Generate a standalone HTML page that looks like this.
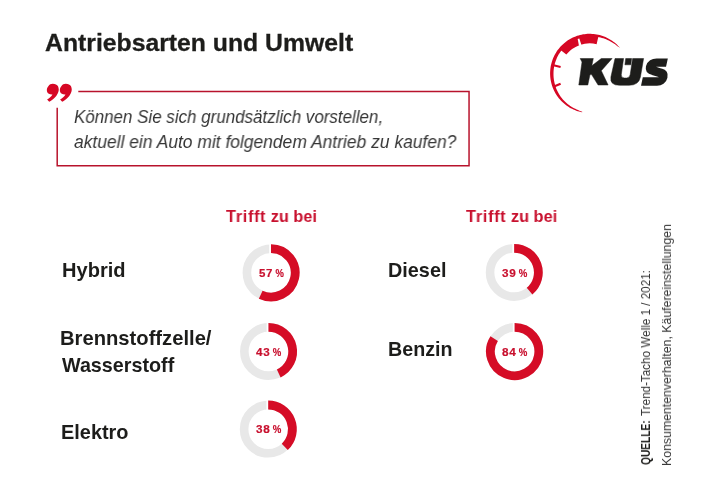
<!DOCTYPE html>
<html lang="de">
<head>
<meta charset="utf-8">
<title>Antriebsarten und Umwelt</title>
<style>
  html, body { margin:0; padding:0; }
  body { width:710px; height:502px; background:#ffffff; position:relative; overflow:hidden;
         font-family:"Liberation Sans", sans-serif; color:#1d1d1b; }
  .abs { position:absolute; white-space:nowrap; line-height:1; transform-origin:0 0; will-change:transform; }
  .title { font-weight:bold; color:#1d1d1b; -webkit-text-stroke:0.3px #1d1d1b; }
  .q { font-style:italic; color:#363636; }
  .lbl { font-weight:bold; color:#1d1d1b; }
  .hdr { font-weight:bold; color:#c8102e; }
  .hdr span { letter-spacing:0.7px; }
  .pct { font-weight:bold; color:#c8102e; -webkit-text-stroke:0.2px #c8102e; }
  .pct .d { letter-spacing:0.7px; }
  .pct .pc { display:inline-block; transform:scaleX(0.82); transform-origin:0 50%; margin-left:-0.5px; }
  .src { color:#363636; }
  .srcb { font-weight:bold; color:#1d1d1b; }
  svg { position:absolute; left:0; top:0; }
</style>
</head>
<body>

<svg id="art" width="710" height="502" viewBox="0 0 710 502">
  <!-- quote box -->
  <g fill="none" stroke="#b8132c" stroke-width="1.5">
    <path d="M78.3 91.5 H469.05 V165.7 H57.2 V107.7"/>
  </g>
<!--DONUTS-->
<circle cx="271.0" cy="272.8" r="24.1" fill="none" stroke="#e8e8e8" stroke-width="8.6"/>
<rect x="269.20" y="243.40" width="1.9" height="10.6" fill="#fff"/>
<path d="M271.00 248.60 A24.2 24.2 0 1 1 260.70 294.70" fill="none" stroke="#d50c26" stroke-width="8.8"/>
<circle cx="268.45" cy="351.5" r="24.1" fill="none" stroke="#e8e8e8" stroke-width="8.6"/>
<rect x="266.65" y="322.10" width="1.9" height="10.6" fill="#fff"/>
<path d="M268.45 327.30 A24.2 24.2 0 0 1 278.75 373.40" fill="none" stroke="#d50c26" stroke-width="8.8"/>
<circle cx="268.2" cy="429.2" r="24.1" fill="none" stroke="#e8e8e8" stroke-width="8.6"/>
<rect x="266.40" y="399.80" width="1.9" height="10.6" fill="#fff"/>
<path d="M268.20 405.00 A24.2 24.2 0 0 1 284.77 446.84" fill="none" stroke="#d50c26" stroke-width="8.8"/>
<circle cx="514.15" cy="272.5" r="24.1" fill="none" stroke="#e8e8e8" stroke-width="8.6"/>
<rect x="512.35" y="243.10" width="1.9" height="10.6" fill="#fff"/>
<path d="M514.15 248.30 A24.2 24.2 0 0 1 529.58 291.15" fill="none" stroke="#d50c26" stroke-width="8.8"/>
<circle cx="514.6" cy="351.5" r="24.1" fill="none" stroke="#e8e8e8" stroke-width="8.6"/>
<rect x="512.80" y="322.10" width="1.9" height="10.6" fill="#fff"/>
<path d="M514.60 327.30 A24.2 24.2 0 1 1 494.17 338.53" fill="none" stroke="#d50c26" stroke-width="8.8"/>
<!--/DONUTS-->

  <!-- quote marks -->
  <g fill="#d60724">
    <path d="M52.8 83.7 C50.9 83.7 49.4 84.6 48.5 85.9 C47.4 87.2 46.85 88.5 46.85 89.9 C46.85 91.5 47.4 92.7 48.4 93.5 C49.5 94.3 51 94.6 52.5 94.5 C51.3 96.4 49.4 98.2 47.1 99.4 L49.2 101.8 C51.2 100.9 53 99.6 54.4 98.1 C55.8 96.7 56.9 95.2 57.7 93.5 C58.4 92.2 58.76 91 58.76 89.8 C58.76 88.4 58.5 87.2 58 86.2 C57.2 84.7 55.2 83.7 52.8 83.7 Z"/>
    <path transform="translate(13 0)" d="M52.8 83.7 C50.9 83.7 49.4 84.6 48.5 85.9 C47.4 87.2 46.85 88.5 46.85 89.9 C46.85 91.5 47.4 92.7 48.4 93.5 C49.5 94.3 51 94.6 52.5 94.5 C51.3 96.4 49.4 98.2 47.1 99.4 L49.2 101.8 C51.2 100.9 53 99.6 54.4 98.1 C55.8 96.7 56.9 95.2 57.7 93.5 C58.4 92.2 58.76 91 58.76 89.8 C58.76 88.4 58.5 87.2 58 86.2 C57.2 84.7 55.2 83.7 52.8 83.7 Z"/>
  </g>

  <!-- logo -->
  <g id="logo">
    <path fill="#d60724" d="M582.14 112.27 L580.65 111.95 L579.17 111.57 L577.70 111.14 L576.25 110.65 L574.83 110.10 L573.42 109.50 L572.04 108.84 L570.68 108.14 L569.36 107.38 L568.06 106.57 L566.80 105.71 L565.57 104.80 L564.37 103.84 L563.22 102.84 L562.10 101.80 L561.03 100.71 L559.99 99.58 L559.00 98.42 L558.06 97.22 L557.17 95.98 L556.32 94.70 L555.52 93.40 L554.77 92.07 L554.08 90.70 L553.44 89.32 L552.85 87.90 L552.32 86.47 L551.84 85.02 L551.42 83.55 L551.06 82.06 L550.75 80.57 L550.51 79.06 L550.32 77.54 L550.19 76.02 L550.11 74.49 L550.10 72.96 L550.15 71.43 L550.25 69.91 L550.42 68.39 L550.64 66.87 L550.92 65.37 L551.26 63.88 L551.66 62.40 L552.11 60.94 L552.62 59.50 L553.18 58.08 L553.80 56.68 L554.47 55.31 L555.20 53.96 L555.97 52.65 L556.80 51.36 L557.68 50.11 L558.60 48.89 L559.57 47.71 L560.58 46.56 L561.64 45.46 L562.74 44.40 L563.88 43.38 L565.06 42.40 L566.27 41.47 L567.52 40.59 L568.80 39.76 L570.12 38.98 L571.46 38.25 L572.83 37.57 L574.23 36.95 L575.65 36.38 L577.09 35.86 L578.54 35.40 L580.02 35.00 L581.51 34.66 L583.01 34.37 L584.52 34.14 L586.04 33.97 L587.56 33.86 L589.09 33.80 L590.62 33.81 L592.15 33.88 L593.67 34.00 L595.19 34.18 L596.70 34.42 L598.20 34.72 L599.69 35.08 L601.16 35.49 L602.61 35.96 L604.05 36.49 L605.46 37.07 L606.85 37.71 L608.22 38.40 L609.55 39.14 L610.86 39.93 L612.14 40.77 L613.38 41.66 L614.59 42.60 L615.76 43.58 L616.89 44.61 L617.98 45.68 L619.03 46.79 L620.04 47.95 L620.04 47.95 L618.74 47.05 L617.46 46.19 L616.29 45.25 L615.09 44.35 L613.86 43.50 L612.63 42.67 L611.36 41.90 L610.07 41.18 L608.75 40.52 L607.43 39.89 L606.08 39.31 L604.71 38.79 L603.33 38.33 L601.94 37.92 L600.53 37.56 L599.13 37.21 L597.71 36.93 L596.29 36.70 L594.86 36.52 L593.43 36.40 L592.00 36.34 L590.56 36.33 L589.13 36.37 L587.70 36.44 L586.28 36.57 L584.87 36.76 L583.46 37.00 L582.07 37.30 L580.69 37.65 L579.32 38.05 L577.97 38.50 L576.64 39.01 L575.34 39.56 L574.05 40.17 L572.80 40.82 L571.57 41.53 L570.36 42.27 L569.19 43.07 L568.06 43.91 L566.95 44.79 L565.88 45.71 L564.85 46.67 L563.86 47.67 L562.91 48.71 L562.00 49.78 L561.13 50.88 L560.30 52.01 L559.51 53.18 L558.77 54.37 L558.08 55.59 L557.43 56.83 L556.84 58.10 L556.29 59.39 L555.80 60.69 L555.34 62.01 L554.92 63.35 L554.56 64.70 L554.25 66.06 L553.99 67.43 L553.79 68.82 L553.64 70.21 L553.54 71.60 L553.50 73.00 L553.49 74.40 L553.52 75.80 L553.60 77.19 L553.74 78.59 L553.93 79.98 L554.17 81.37 L554.47 82.74 L554.80 84.11 L555.19 85.47 L555.62 86.81 L556.11 88.14 L556.65 89.45 L557.24 90.75 L557.88 92.02 L558.56 93.27 L559.28 94.51 L560.05 95.72 L560.87 96.89 L561.74 98.04 L562.66 99.16 L563.62 100.24 L564.62 101.28 L565.67 102.29 L566.76 103.25 L567.88 104.17 L569.05 105.05 L570.25 105.89 L571.47 106.70 L572.73 107.47 L574.01 108.19 L575.33 108.86 L576.67 109.49 L578.04 110.07 L579.41 110.70 L580.81 111.27 L582.24 111.78 Z"/>
    <path fill="#d60724" d="M559.62 49.21 A38.6 38.6 0 0 1 598.58 35.84 L596.60 44.20 A30.0 30.0 0 0 0 566.32 54.60 Z"/>
    <path fill="#fff" d="M577.67 39.05 L579.30 38.52 L581.47 45.07 L579.03 45.90 Z"/>
    <path fill="none" stroke="#d60724" stroke-width="2.1" d="M553.5 65.2 L560.6 66.9 M554 86.5 L560.6 83.7"/>
    <g fill="#1d1d1b" stroke="#1d1d1b" stroke-width="0.5" stroke-linejoin="miter">
      <path d="M580.2 58.5 L593.3 58.5 L591.8 65.8 L601.3 58.5 L612.1 58.5 L601.3 70.7 L608.1 85 L598.1 85 L591.6 74.6 L590 74.6 L587.8 85 L578.8 85 L582 62 Z"/>
      <path d="M615 58.5 L623.6 58.5 L621.3 74.5 Q620.9 78 624.5 78 L626.5 78 Q629.6 78 630.2 74.5 L632.6 58.5 L643.6 58.5 L640.4 77 Q638.8 85.3 629 85.3 L619.5 85.3 Q609.6 85.3 610.9 77 Z"/>
      <path d="M625.7 58.5 L631.6 58.5 L630.8 64.8 L624.9 64.8 Z"/>
    </g>
    <path fill="none" stroke="#1d1d1b" stroke-width="8.4" stroke-linejoin="round" transform="translate(655 71.7) skewX(-12) translate(-655 -71.7)" d="M665 62.6 L653.8 62.6 Q649 62.6 649 66.3 Q649 70 653.8 70.9 L660 72.7 Q664.5 73.8 664.5 77.7 Q664.5 81.5 660 81.5 L644 81.5"/>
  </g>
</svg>
<div class="abs title" id="title" style="left:45.00px;top:31px;font-size:24.5px;transform:scaleX(1.0105);">Antriebsarten und Umwelt</div>
<div class="abs q" id="q1" style="left:74.00px;top:109px;font-size:17.6px;transform:scaleX(0.9636);">Können Sie sich grundsätzlich vorstellen,</div>
<div class="abs q" id="q2" style="left:74.00px;top:134px;font-size:17.6px;transform:scaleX(0.9905);">aktuell ein Auto mit folgendem Antrieb zu kaufen?</div>
<div class="abs hdr" id="h1" style="left:226.00px;top:208px;font-size:17px;transform:scaleX(0.9577);"><span>Trifft</span> zu bei</div>
<div class="abs hdr" id="h2" style="left:466.00px;top:208px;font-size:17px;transform:scaleX(0.9607);"><span>Trifft</span> zu bei</div>
<div class="abs lbl" id="l1" style="left:62.00px;top:261px;font-size:19.3px;transform:scaleX(1.0398);">Hybrid</div>
<div class="abs lbl" id="l2" style="left:60.00px;top:329px;font-size:19.3px;transform:scaleX(1.0474);">Brennstoffzelle/</div>
<div class="abs lbl" id="l3" style="left:62.00px;top:356px;font-size:19.3px;transform:scaleX(1.0233);">Wasserstoff</div>
<div class="abs lbl" id="l4" style="left:61.00px;top:423px;font-size:19.3px;transform:scaleX(1.0332);">Elektro</div>
<div class="abs lbl" id="l5" style="left:388.00px;top:261px;font-size:19.3px;transform:scaleX(1.0286);">Diesel</div>
<div class="abs lbl" id="l6" style="left:388.00px;top:340px;font-size:19.3px;transform:scaleX(1.0211);">Benzin</div>
<div class="abs pct" id="p1" style="left:259.00px;top:268px;font-size:11.2px;transform:scaleX(1.0272);"><span class="d">57</span> <span class="pc">%</span></div>
<div class="abs pct" id="p2" style="left:256.00px;top:347px;font-size:11.2px;transform:scaleX(1.0407);"><span class="d">43</span> <span class="pc">%</span></div>
<div class="abs pct" id="p3" style="left:256.00px;top:424px;font-size:11.2px;transform:scaleX(1.0489);"><span class="d">38</span> <span class="pc">%</span></div>
<div class="abs pct" id="p4" style="left:502.00px;top:268px;font-size:11.2px;transform:scaleX(1.0489);"><span class="d">39</span> <span class="pc">%</span></div>
<div class="abs pct" id="p5" style="left:502.00px;top:347px;font-size:11.2px;transform:scaleX(1.0495);"><span class="d">84</span> <span class="pc">%</span></div>
<div class="abs src srcb" id="s1a" style="left:640px;top:464.77px;font-size:12.4px;transform:rotate(-90deg) scaleX(0.8209);">QUELLE:</div>
<div class="abs src" id="s1b" style="left:640px;top:416.11px;font-size:12.4px;transform:rotate(-90deg) scaleX(0.9417);">Trend-Tacho Welle 1 / 2021:</div>
<div class="abs src" id="s2" style="left:661px;top:465.84px;font-size:12.4px;transform:rotate(-90deg) scaleX(0.9922);">Konsumentenverhalten, Käufereinstellungen</div>

</body>
</html>
